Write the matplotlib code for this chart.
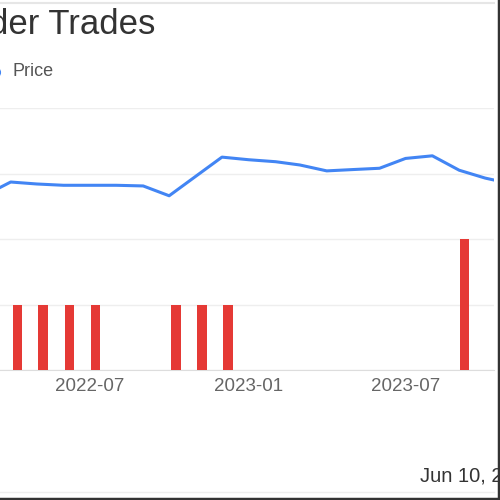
import pandas as pd
import matplotlib
matplotlib.use('Agg')
import matplotlib.pyplot as plt
import matplotlib.dates as mdates
from matplotlib.lines import Line2D

plt.rcParams['font.family'] = ['Liberation Sans', 'DejaVu Sans']

# monthly closing price
price_dates = ['2022-02-01', '2022-03-01', '2022-04-01', '2022-05-01', '2022-06-01',
               '2022-07-01', '2022-08-01', '2022-09-01', '2022-10-01', '2022-11-01',
               '2022-12-01', '2023-01-01', '2023-02-01', '2023-03-01', '2023-04-01',
               '2023-05-01', '2023-06-01', '2023-07-01', '2023-08-01', '2023-09-01',
               '2023-10-01', '2023-11-01']
price = [26.9, 26.6, 28.7, 28.4, 28.2, 28.2, 28.2, 28.1, 26.6, 29.6, 32.5,
         32.1, 31.8, 31.3, 30.4, 30.6, 30.8, 32.3, 32.7, 30.5, 29.3, 28.4]

# insider trades
trade_dates = ['2022-04-09', '2022-05-08', '2022-06-08', '2022-07-08',
               '2022-10-09', '2022-11-08', '2022-12-08', '2023-09-07']
trade_counts = [1, 1, 1, 1, 1, 1, 1, 2]

tick_dates = ['2022-07-01', '2023-01-01', '2023-07-01']
tick_labels = ['2022-07', '2023-01', '2023-07']

W = H = 500
def fx(px): return px / W
def fy(py): return 1 - py / H

fig = plt.figure(figsize=(5, 5), dpi=100)
fig.patch.set_facecolor('white')

ax = fig.add_axes([fx(-40), fy(370), fx(494) - fx(-40), (370 - 108) / H])
ax.bar(pd.to_datetime(trade_dates), trade_counts, width=11, color='#e53935', zorder=3)
ax.set_ylim(0, 4)
x0 = mdates.date2num(pd.Timestamp('2022-07-01'))
ax.set_xlim(x0 + (-40 - 89.5) / 0.8658, x0 + (494 - 89.5) / 0.8658)
ax.set_yticks([0, 1, 2, 3, 4])
ax.set_yticklabels([])
ax.grid(axis='y', color='#eeeeee', lw=1, zorder=0)
for s in ['top', 'right', 'left']:
    ax.spines[s].set_visible(False)
ax.spines['bottom'].set_color('#dddddd')
ax.set_xticks(pd.to_datetime(tick_dates))
ax.set_xticklabels(tick_labels)
ax.tick_params(axis='x', length=0, pad=6, labelsize=13.5, labelcolor='#666666')
ax.tick_params(axis='y', length=0)

ax2 = ax.twinx()
ax2.plot(pd.to_datetime(price_dates), price, color='#4285f4', lw=2.2)
ax2.set_ylim(0, 40)
ax2.set_xlim(ax.get_xlim())
ax2.set_yticks([])
for s in ax2.spines.values():
    s.set_visible(False)

# title, legend, date
fig.text(fx(155), fy(34), 'Insider Trades', ha='right', va='baseline',
         fontsize=25, color='#333333')
fig.add_artist(Line2D([fx(-5)], [fy(72)], marker='o', ms=7, color='#4285f4',
                      transform=fig.transFigure))
fig.text(fx(13), fy(72), 'Price', va='center', fontsize=13, color='#555555')
fig.text(fx(420), fy(482), 'Jun 10, 2024', va='baseline', fontsize=14.5,
         color='#333333')

# frame lines
fig.add_artist(Line2D([0, fx(494)], [fy(3), fy(3)], color='#e6e6e6', lw=1.5,
                      transform=fig.transFigure))
fig.add_artist(Line2D([0, fx(494)], [fy(492), fy(492)], color='#eeeeee', lw=1,
                      transform=fig.transFigure))
fig.add_artist(Line2D([fx(498.5), fx(498.5)], [0, 1], color='#333333', lw=2.5,
                      transform=fig.transFigure))
fig.add_artist(Line2D([0, 1], [fy(498.5), fy(498.5)], color='#333333', lw=2.5,
                      transform=fig.transFigure))

fig.savefig('out.png', dpi=100)
